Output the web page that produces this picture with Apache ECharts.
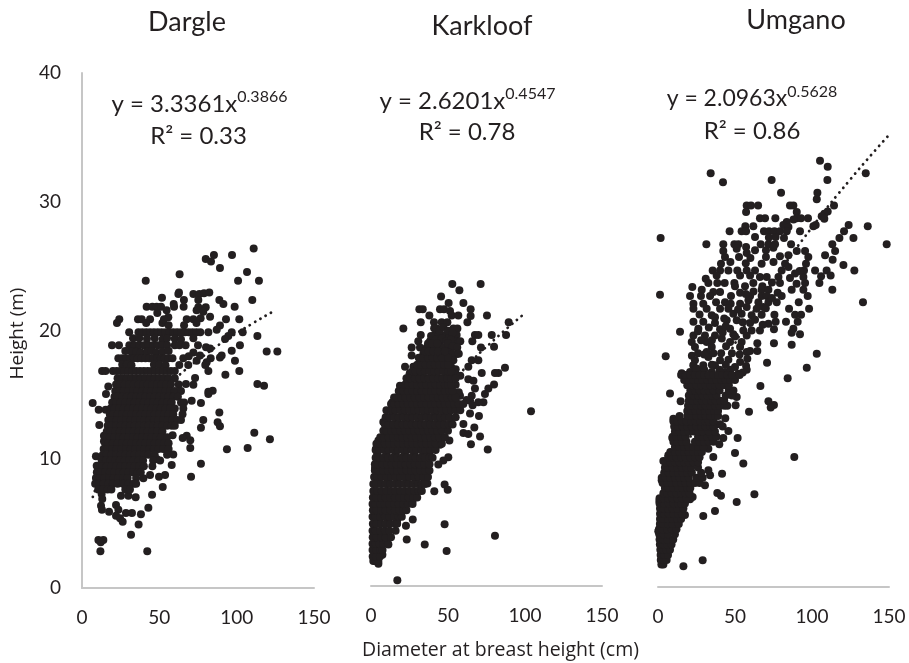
<!DOCTYPE html>
<html><head><meta charset="utf-8"><style>html,body{margin:0;padding:0;background:#fff}#c{width:909px;height:663px}</style>
<script src="https://cdn.jsdelivr.net/npm/echarts@6/dist/echarts.min.js"></script></head><body><div id="c"></div>
<script>
const panelNames=["Dargle","Karkloof","Umgano"];
const xTicks=[0,50,100,150];
const yTicks=[0,10,20,30,40];
const equations=[["3.3361","0.3866","0.33"],["2.6201","0.4547","0.78"],["2.0963","0.5628","0.86"]];
const dargleTrend=[[7,7.08],[15,9.5],[25,11.58],[40,13.89],[60,16.24],[80,18.15],[100,19.79],[125,21.57]];
const karkloofTrend=[[2,3.59],[5,5.45],[10,7.46],[20,10.23],[40,14.02],[60,16.86],[80,19.2],[100,21.27]];
const umganoTrend=[[1,2.1],[5,5.19],[10,7.66],[25,12.83],[50,18.95],[75,23.81],[100,27.99],[125,31.74],[149,35.05]];
const darglePoints=[[111,26.36],[97,25.86],[85.3,25.86],[80,25.55],[83.4,25.35],[89.2,24.85],[106.7,24.54],[100.9,23.87],[114.4,23.87],[63.1,24.36],[41.2,23.87],[62.7,22.96],[62.3,22.83],[72,22.83],[75.9,22.83],[78.9,22.89],[82.3,22.96],[51.7,22.55],[65.9,22.37],[75.2,22.37],[88.8,22.37],[91.4,22.06],[110.1,22.37],[59.3,22.06],[59.5,21.85],[65.7,21.85],[41.8,21.85],[45.5,21.85],[48.3,21.85],[51.1,21.85],[75.2,21.8],[80,21.8],[98.7,21.85],[54.7,21.57],[74.1,21.57],[78.4,21.46],[82.8,21.07],[24.1,20.87],[22.6,20.58],[36.2,20.87],[38.6,20.87],[44,20.87],[48.7,21.36],[55.8,21.02],[67.7,20.87],[72,20.87],[76.7,20.95],[93.1,20.87],[101.7,20.87],[89.2,20.38],[87.1,20.06],[41.5,20.58],[52,20.58],[56,20.4],[53,20.87],[66,20.4],[74,20.58],
[30.5,19.86],[36.5,19.86],[39,19.86],[41.5,19.86],[44,19.86],[46.5,19.86],[49,19.86],[51.5,19.86],[54,19.86],[56.5,19.86],[59,19.86],[61.5,19.86],[64,19.86],[66.5,19.86],[69,19.86],[71.5,19.86],[74,19.86],[76.5,19.86],[81.7,19.86],[96.8,19.86],[103.9,19.86],[94.6,19.57],[92.5,19.34],[113.4,19.57],[33,19.4],[37,19.4],[42,19.35],[47,19.4],[52,19.3],[55,19.4],[60,19.35],[64,19.3],[72,19.4],
[19.4,18.85],[23.9,18.85],[30.6,18.85],[34,18.85],[37,18.85],[40,18.85],[43,18.85],[46,18.85],[49,18.85],[52,18.85],[55,18.85],[60,18.85],[63,18.85],[67,18.85],[75,18.85],[102.1,18.85],[80.2,18.69],[82.8,18.6],[96.8,18.43],[119.4,18.36],[126.3,18.36],[90.3,18.05],[89.2,17.9],[98.9,17.66],[83.2,17.84],[80.6,17.53],[79.7,17.32],[74.1,17.66],[76.3,18.05],[72,18.3],[68.7,17.32],[62.9,17.32],[65.5,17.84],[69,18],[32,18.35],[35,18.35],[38,18.3],[42,18.35],[45,18.4],[48,18.3],[52,18.35],[28,18.4],[56,18.4],
[23.5,17.84],[26,17.84],[28.5,17.84],[31,17.84],[33.5,17.84],[36,17.84],[38.5,17.84],[41,17.84],[43.5,17.84],[46,17.84],[48.5,17.84],[51,17.84],[53.5,17.84],[56,17.84],[58.5,17.84],[26,17.35],[29,17.35],[32,17.3],[46.5,17.35],[50,17.35],[54,17.3],[13,16.85],[15.2,16.85],[20,16.85],[22.5,16.85],[25,16.85],[27.5,16.85],[30,16.85],[32.5,16.85],[35,16.85],[37.5,16.85],[40,16.85],[42.5,16.85],[45,16.85],[47.5,16.85],[50,16.85],[52.5,16.85],[55,16.85],[57.5,16.85],[60,16.85],[81.7,16.85],[101.7,16.85],[92.7,16.57],[73.1,16.31],[72,15.79],[67.2,15.84],[113.4,15.84],[117.7,15.71],[81.7,15.25],[84.5,15.33],[81.7,15.07],[70.9,14.55],[76.9,14.37],[88.8,13.64],[78.4,13.05],[87.7,12.87],[89.2,12.56],[76.9,12.45],[111.4,12.06],[121.5,11.55],[67.7,11.83],[65.1,11.65],[70,11.47],[58.6,11.86],[70,10.87],[93.7,10.77],[107.1,10.87],[59,10.36],[76.9,9.66],[58,9.55],[70.5,8.65],[53.7,8.78],[49.8,8.65],[52.2,7.84],[45.3,7.25],[42.9,6.24],[38.1,5.72],[36.6,4.94],[31.7,4.14],[42.2,2.85],[11.9,2.85],[10.6,3.73],[13.8,3.73],[12.1,3.55],
[6.9,14.37],[10.8,13.85],[15.3,13.85],[11.2,12.66],[14.2,11.83],[14.2,11.39],[9,10.23],[17,15.66],[15.5,15.07],[9.5,9.5],[12.3,6.39],[12.9,6.08],[17.5,5.93],[22,6.45],[23.5,6.08],[22,5.62],[24.6,5.41],[26.3,5.15],[28.4,5.83],[32.3,5.83],[25.2,7.17],[30,7.17],[34.7,7.04],[12.7,7.3],[13.1,6.91],[31,8.08],[39.7,8.52],[44,8.78],[48.3,10.02]];
const dargleBlob=[
[16.3,23,26,29,32,35,38,41,44,47,50,53,56,60],
[15.8,22,24.5,27.5,30.5,33.5,36.5,39.5,42.5,45.5,48.5,51.5,54.5,57.5,62.5],
[15.3,21.5,24,27,30,33,36,39,42,45,48,51,54,57,60,64],
[14.85,21,23,26,29,32,35,38,41,44,47,50,53,56,59,62],
[14.4,19.5,22,25,28,31,34,37,40,43,46,49,52,55,58,64,66],
[13.95,18.5,21,24,27,30,33,36,39,42,45,48,51,54,57,60,65.5],
[13.5,18,20,23,26,29,32,35,38,41,44,47,50,53,56,59,65],
[13.05,17,19.5,22.5,25.5,28.5,31.5,34.5,37.5,40.5,43.5,46.5,49.5,52.5,55.5,58.5,61.5,64],
[12.6,16.6,19,22,25,28,31,34,37,40,43,46,49,52,55,58,60],
[12.15,16,18.5,21.5,24.5,27.5,30.5,33.5,36.5,39.5,42.5,45.5,48.5,52],
[11.7,15.5,18,21,24,27,30,33,36,39,42,45,48,51,55],
[11.25,15,17,20,23,26,29,32,35,38,41,44,47,50,53,56],
[10.8,14,16.5,19.5,22.5,25.5,28.5,31.5,34.5,37.5,40.5,43.5,46.5,49.5,52.5,56],
[10.35,13.5,16,19,22,25,28,31,34,37,40,43,47,55],
[9.9,12.7,15.5,18.5,21.5,24.5,27.5,30.5,33.5,36.5,39.5,46,50.5],
[9.45,10.8,13,16,19,22,25,28,31,34,37,40,45.5],
[9,9.6,12,15,18,21,24,27,30,33,36,38],
[8.55,9,11.5,14.5,17.5,20.5,23.5,26.5,29.5,35],
[8.1,8.5,11,14,17,20,23,26.5,30,33.5,35],
[7.65,10.5,13.5,16.5,19,28,31]];
const karkloofPoints=[[52.8,23.55],[71.2,23.55],[57.4,23.06],[45.5,22.57],[50.4,22.07],[60,22.07],[31.4,21.58],[33.6,21.58],[44.8,21.58],[47.4,21.58],[51.3,21.45],[64.7,21.58],[64.7,21.06],[37.9,21.09],[52.4,21.09],[56.7,21.09],[75.3,21.09],[32.3,20.57],[40.9,20.57],[45.9,20.57],[49.6,20.57],[62.6,20.57],[89.4,20.57],[21,20.08],[42.7,20.08],[53.5,20.08],[56.1,20.08],[87.7,19.58],[32.3,19.58],[41.6,19.58],[44,19.58],[48.1,19.58],[51,19.58],[55.6,19.58],[67.5,19.58],[69.7,19.58],[78.4,19.58],[30.7,19.09],[38.3,19.09],[45,19.09],[55.6,19.09],[58,19.09],[65.8,19.09],[79.9,18.65],[26.4,18.6],[71.4,18.6],[31.8,18.6],[36.2,18.6],[51.3,18.6],[26.4,17.98],[55.6,18.08],[32.3,17.56],[65.4,17.61],[69.7,17.61],[22.1,17.09],[27.5,17.09],[63.2,17.09],[87,17.02],[82.7,16.6],[80.5,16.6],[71.9,16.6],[25.3,16.6],[31.8,16.6],[63.2,16.13],[66.5,16],[79.9,15.72],[18.8,15.62],[23.2,15.62],[76.2,15.4],[67.5,15.4],[74,14.97],[57.8,14.84],[65.4,14.84],[64.3,14.45],[73,14.32],[69.7,14.32],[66,14.1],[13.9,14.32],[103.9,13.62],[64.3,13.46],[70.1,13.26],[8,12.79],[60,12.63],[67.1,12.35],[60,11.93],[63.2,11.85],[70.8,11.65],[64.9,11.05],[75.8,10.64],[4.8,11.34],[3.2,10.69],[2.6,9.2],[50.9,11.34],[44.8,11.02],[50.2,10.04],[47,9.78],[43.7,9.47],[36.6,7.99],[41.1,7.39],[47.8,7.91],[49.8,7.5],[27.1,5.19],[22.7,4.7],[47.8,4.82],[23.2,3.63],[34.9,3.24],[49.1,2.72],[80.5,3.92],[17.1,0.44],[11.3,3.24],[7.4,2.44],[4.8,1.74],[2.6,1.95]];
const karkloofUpper=[[41,20.1],[44.5,19.9],[47,20.2],[50,19.9],[53,19.7],[39,19.5],[42,19.2],[46,19.3],[49,19.1],[52,19.2],[38,18.7],[41,18.6],[44,18.7],[47,18.6],[50,18.9],[53,18.7],[56,18.6],[34,18.1],[38,18.2],[46,18.2],[50,18.2],[53,18.1],[57,18.1],[33,17.5],[36,17.6],[39,17.5],[42,17.7],[45,17.5],[48,17.7],[51,17.5],[53.5,17.6],[28,17.1],[32,17.05],[52,17.1],[55,16.9],[29,16.5],[55,16.5],[58,16.4],[22,15.6],[27,15.9],[55,15.7],[57,15.1],[20,15],[55,14.6],[62,14.5]];
const karkloofFill=[[4,10.3],[10,10.3],[16,10.3],[22,10.3],[28,10.3],[34,10.3],[38,10.3],[5,8.2],[11,8.2],[17,8.2],[23,8.2],[29,8.2],[35,8.2],[4,6.65],[10,6.65],[16,6.65],[22,6.65],[27,6.65],[5,5.15],[11,5.15],[17,5.15],[10,12.85],[17,12.85],[24,12.85],[31,12.85],[38,12.85],[45,12.85],[52,12.85],[14,13.45],[21,13.45],[28,13.45],[35,13.45],[42,13.45],[49,13.45],[25,16.5],[33,16.5],[41,16.5],[49,16.5],[30,17],[38,17],[46,17]];
const karkloofBlob=[
[1.95,1.5,3.5,4.8],
[2.3,1.1,3.2,5.8],
[2.8,1,3.5,6,7.5],
[3.3,1,3,5.5,8,11],
[3.8,1.1,3.5,6.5,9.5,13],
[4.3,1,3,6,9,12,16],
[4.85,1.2,3.5,6.5,9.5,12.5,15.5,17],
[5.4,1,3,6,9,12,15,18,20],
[5.9,1.2,3.5,6.5,9.5,12.5,15.5,18.5,21,23],
[6.4,1,3,6,9,12,15,18,21,24,27],
[6.9,1.2,3.5,6.5,9.5,12.5,15.5,18.5,21.5,24.5,27.5,30],
[7.4,1.5,4,7,10,13,16,19,22,25,28,31,33],
[7.95,1.5,3.5,6.5,9.5,12.5,15.5,18.5,21.5,24.5,27.5,30.5,33,35],
[8.5,2,4,7,10,13,16,19,22,25,28,31,34,37],
[9,2.5,5,8,11,14,17,20,23,26,29,32,35,38],
[9.5,2.5,4.5,7.5,10.5,13.5,16.5,19.5,22.5,25.5,28.5,31.5,34.5,38],
[10,3,5,8,11,14,17,20,23,26,29,32,35,38,40],
[10.6,3,5.5,8.5,11.5,14.5,17.5,20.5,23.5,26.5,29.5,32.5,35.5,38.5,42],
[11.1,3.5,6,9,12,15,18,21,24,27,30,33,36,39,42,46],
[11.6,6,8.5,11.5,14.5,17.5,20.5,23.5,26.5,29.5,32.5,35.5,38.5,41.5,44.5,48],
[12.1,8,10,13,16,19,22,25,28,31,34,37,40,43,46,50],
[12.6,9,11.5,14.5,17.5,20.5,23.5,26.5,29.5,32.5,35.5,38.5,41.5,44.5,47.5,50.5,53],
[13.15,9.5,12,15,18,21,24,27,30,33,36,39,42,45,48,51,55],
[13.7,10,13,16,19,22,25,28,31,34,37,40,43,46,49,52,55,58],
[14.2,13,15,18,21,24,27,30,33,36,39,42,45,48,51,54,57,60],
[14.7,15,16.5,19.5,22.5,25.5,28.5,31.5,34.5,37.5,40.5,43.5,46.5,49.5,52.5,55],
[15.2,18,21,24,27,30,33,36,39,42,45,48,51,53],
[15.7,22,24,27,30,33,36,39,42,45,48,50,52],
[16.2,23,25.5,28.5,31.5,34.5,37.5,40.5,43.5,46.5,49.5,52,55],
[16.75,27,29,32,35,38,41,44,47,50,52],
[17.25,30,32.5,35.5,38.5,41.5,44.5,47.5,50],
[17.8,31,34,37,40,43,46,50],
[18.3,35,37.5,40.5,43.5,48],
[18.9,37,39.5,43]];
const umganoPoints=[[105.2,33.18],[110.2,32.71],[110,31.67],[134.9,32.19],[34.2,32.19],[42.2,31.49],[73.8,31.67],[79.9,30.69],[103.5,30.69],[103.1,30.17],[114.3,29.68],[110.2,29.23],[108,29.05],[106.3,28.85],[108,28.66],[57.6,29.68],[60.4,29.68],[65,29.68],[57.2,29.18],[85.7,29.68],[87.9,29.68],[90.1,29.18],[66.2,28.69],[69.5,28.69],[76.2,28.69],[90.1,28.69],[92.9,28.69],[97.4,28.69],[102.4,28.17],[100.9,28.07],[123.8,28.17],[136.2,28.07],[56.7,28.07],[61.9,28.07],[83.6,28.4],[81.4,28.17],[84.7,28.02],[46.5,27.68],[54.3,27.68],[57.2,27.68],[68.8,27.68],[72.1,27.68],[75.6,27.68],[79.2,27.68],[83.6,27.68],[92.2,27.68],[120.8,27.68],[117.8,27.16],[126.9,27.16],[1.7,27.16],[63,27.24],[76.4,27.24],[81.8,27.16],[31.4,26.67],[42.4,26.67],[49.6,26.67],[52.2,26.67],[57.2,26.46],[66.7,26.67],[71.7,26.67],[76,26.67],[86.4,26.67],[113.2,26.67],[148.5,26.67],[115,26.15],[42.4,26.15],[51.1,26.33],[57.6,25.99],[63,26.2],[70.1,26.2],[74.9,26.41],[90.1,26.15],[95.5,26.15],[43.5,25.68],[52.6,25.68],[70.1,25.68],[79.2,25.73],[84.7,25.81],[97.6,25.68],[108.5,25.81],[113.4,25.47],[40.9,25.16],[67.3,25.16],[82.5,25.16],[96.1,25.16],[120.4,25.06],[127.5,24.64],[35.5,24.64],[40.3,24.64],[45.7,24.64],[51.5,24.64],[57.6,24.64],[63,24.64],[80.3,24.64],[84.7,24.9],[94.8,24.64],[102,24.64],[109.5,24.64],[38.1,24.25],[53.3,24.25],[59.8,24.25],[66.2,24.12],[70.6,24.12],[78.2,24.12],[85.7,24.05],[94.4,24.12],[105.9,24.18],[112.1,24.25],[31,23.99],[32.7,23.66],[38.5,23.66],[43.3,23.66],[49.6,23.66],[61.9,23.66],[79.2,23.66],[95.5,23.66],[104.8,23.66],[22.3,23.35],[56.5,23.4],[67.8,23.4],[28.4,23.14],[35.9,22.96],[50,23.4],[53.3,22.9],[67.3,23.14],[71.7,23.14],[77.7,22.9],[86.8,23.14],[94.4,23.14],[113.2,23.14],[1.3,22.75],[20.8,22.65],[27.9,22.65],[33.8,22.65],[40.3,22.96],[47.4,22.65],[59.8,22.65],[67.3,22.65],[70.6,22.65],[80.3,22.65],[97.2,22.65],[23,22.05],[29.4,22.05],[37.7,22.15],[43.5,22.15],[47.2,22.05],[53.3,22.05],[58.7,22.31],[65.2,22.15],[71.7,22.15],[77.1,22.15],[91.4,22.15],[133.1,22.15],[23,21.66],[31.6,21.66],[40.3,21.66],[45.7,21.66],[57.6,21.79],[64.1,21.66],[68.4,21.79],[85.1,21.66],[98.1,21.66],[34.9,21.14],[48.9,21.27],[54.3,21.27],[60.8,21.14],[67.3,21.19],[75.6,21.19],[89,21.19],[92.9,21.19],[23,20.65],[29.4,20.65],[37,20.54],[44.6,20.75],[51.1,20.75],[59.8,20.54],[71.7,20.49],[76.4,20.65],[83.1,20.65],[90.7,20.65],[14.3,19.87],[26.2,20.1],[40.3,20.05],[46.8,20.1],[55.4,19.97],[60.8,19.97],[66.2,19.97],[75.3,20.05],[87.9,20.1],[86.8,19.79],[92.2,19.66],[23,19.58],[30.5,19.58],[37,19.58],[48.9,19.66],[57.6,19.58],[21.9,19.07],[31.6,19.07],[41.4,19.33],[46.8,19.07],[54.3,19.07],[64.5,18.96],[75.3,18.96],[86.8,18.86],[24,18.68],[34.9,18.68],[44.2,18.73],[53.3,18.68],[31.6,18.29],[57.6,18.29],[64.5,18.37],[59.8,18.37],[103.1,18.16],[5,17.95],[24,17.64],[32.7,17.9],[40.3,17.64],[45.7,17.69],[53.3,17.51],[58,17.77],[70.8,17.46],[22.9,17.25],[29.4,17.25],[37,17.25],[50,17.12],[57.2,17.2],[57.6,16.91],[96.6,17.07],[15.4,16.63],[20.8,16.73],[27.3,16.73],[34.9,16.73],[43.5,16.73],[52.2,16.6],[84.2,16.24],[66.5,15.64],[7.8,15.05],[14.7,14.45],[71.7,14.45],[75.3,14.16],[73.2,13.96],[59.1,13.64],[43.7,13.13],[51.1,14.79],[50.4,14.14],[51.7,11.6],[50,10.43],[88.5,10.12],[55.4,9.62],[35.9,10.12],[41.6,8.82],[33.8,8.69],[62.6,7.21],[51.1,6.61],[38.5,7.32],[40.9,7.11],[37,5.91],[29.4,5.53],[29,2.08],[16.5,1.61],[22.5,7],[20.8,6.82],[17.5,5.6],[30.5,7.91],[32.7,9.08],[45.7,12.14],[37.7,12.66],[40.3,12.66],[32.7,10.76],[39.8,11.1],[42.4,11.6],[10,13.1],[9.3,11.6],[6.7,10.25],[3.5,9.8],[2.4,8.3],[0.9,6.69],[0.2,4.33]];
const umganoBlob=[
[1.75,2.2,3.5],
[2.1,1.8,3.6,5.6],
[2.5,1.7,4,6.5],
[2.9,1.5,3.5,5.5,7.8],
[3.3,1.2,3.5,6,8.8],
[3.7,1,3.5,6,9.9],
[4.1,0.8,3.5,6.5,11],
[4.5,0.6,3,6,9,12],
[4.9,1.2,3.5,6.5,9.5,13.5],
[5.3,1.3,3.5,6.5,9.5,12.5,15],
[5.7,1.3,4,7,10,13,15.5],
[6.1,1.3,3.5,6.5,9.5,12.5,16.5],
[6.5,1,4,7,10,13,15,17.5],
[6.9,1,3.5,6.5,9.5,12.5,15.5,18.5],
[7.3,3.5,6,9,12,15,18,20.5],
[7.7,4.5,7,10,13,16,19,21],
[8.1,3,6,9,12,15,18,21,24,27],
[8.5,2.4,5,8,11,14,17,20,25,29],
[8.9,4,7,10,13,16,19,22,28],
[9.3,4.5,6.5,9.5,12.5,15.5,18.5,21.5,26],
[9.7,5,8,11,14,17,20,23,26],
[10.1,6.7,9,12,15,18,21,24,27],
[10.5,8,11,14,17,20,23,26,28.5],
[10.9,11,14,17,20,23,26,29.5],
[11.3,10,12.5,15.5,18.5,24,27,30,33,36],
[11.7,9.5,12,15,18,26,29,32,35,38],
[12.1,11,14,17,20,23,26,29,33,37],
[12.5,10.5,13,16,19,22,25,28,31,34,36,42],
[12.9,10,12.5,15.5,18.5,21.5,24.5,27.5,30.5,33,36],
[13.3,14,19,22,25,28,31,34,37,39],
[13.7,19,21.5,24.5,27.5,30.5,33.5,36.5,39],
[14.1,19.5,22,25,28,31,34,37,40,43,45],
[14.5,20,22.5,25.5,28.5,31.5,34.5,37.5,40.5,43],
[14.9,20,23,26,29,32,35,38,44,48],
[15.3,21,24,27,30,33,36,40,46,49],
[15.7,19,22,25,28,31,34,37,40,43,46],
[16.1,17,20,23,26,29,32,35,38,41,44,47,50],
[16.5,15,18,21,24,27,30,33,36,39,42,45,48,53]];
const umganoExtra=[[24,16.9],[30,16.9],[40,16.9],[47,16.9],[55,16.7],[25,17.0],[35,17.3],[44,17.3],[22,18.0],[26,18.2],[36,18.2],[41,18.2],[48,18.2],[53,18.1],[28,19.2],[35,19.2],[42,19.8],[50,19.5],[26,19.9],[33,20.2],[37,21],[27,21.2],[43,20.9],[55,20.6],[63,20.8],[68,20.4],[70,21.7],[52,21.6],[74,22.5],[62,23],[74,23.7],[90,23.6],[92,24.6],[89,24.4],[57,25.2],[47,25.3],[60,25.6],[75,25.3],[72,27.2],[88,28.6],[44,20.3],[57,22.8],[30,18.1]];

function expand(rows){const out=[];rows.forEach(r=>{for(let i=1;i<r.length;i++)out.push([r[i],r[0]]);});return out;}
const scatterData=[darglePoints.concat(expand(dargleBlob)),karkloofPoints.concat(karkloofUpper,karkloofFill,expand(karkloofBlob)),umganoPoints.concat(umganoExtra,expand(umganoBlob))];
const trends=[dargleTrend,karkloofTrend,umganoTrend];
const ink="#231f20",axisGrey="#c6c6c6",textCol="#231f20",face="Lato, Carlito, sans-serif",face2="'Open Sans', sans-serif";
const grids=[{left:82,top:73,width:232,height:515,outerBoundsMode:'none'},{left:371,top:73,width:231,height:513,outerBoundsMode:'none'},{left:658,top:73,width:231,height:514,outerBoundsMode:'none'}];
const titlePos=[[187,9],[482,13],[796,7]];
const eqPos=[[199.5,89,198.5,124],[467.5,86,467,120],[752,84,752,119]];
const eqSize=[24,24,23];
const titles=[];
panelNames.forEach((n,i)=>{
 titles.push({text:n,left:titlePos[i][0],top:titlePos[i][1],padding:0,textAlign:'center',textStyle:{fontFamily:face,fontSize:27,fontWeight:'normal',color:textCol}});
 const e=equations[i];
 titles.push({text:'{m|y = '+e[0]+'x}{s|'+e[1]+'}',left:eqPos[i][0],top:eqPos[i][1],padding:0,textAlign:'center',textStyle:{rich:{m:{fontFamily:face,fontSize:eqSize[i],fontWeight:'normal',color:textCol,lineHeight:30},s:{fontFamily:face,fontSize:16,fontWeight:'normal',color:textCol,verticalAlign:'top',lineHeight:18}}}});
 titles.push({text:'R² = '+e[2],left:eqPos[i][2],top:eqPos[i][3],padding:0,textAlign:'center',textStyle:{fontFamily:face,fontSize:24,fontWeight:'normal',color:textCol}});
});
const option={animation:false,backgroundColor:'#fff',title:titles,grid:grids,
 xAxis:grids.map((g,i)=>({gridIndex:i,type:'value',min:xTicks[0],max:xTicks[3],interval:50,
  axisLine:{show:true,onZero:false,lineStyle:{color:axisGrey,width:2}},axisTick:{show:false},splitLine:{show:false},
  axisLabel:{color:textCol,fontFamily:face,fontSize:19,margin:20,showMinLabel:true,showMaxLabel:true},
  name:i===1?'Diameter at breast height (cm)':'',nameLocation:'middle',nameGap:54,
  nameTextStyle:{color:textCol,fontFamily:face2,fontSize:19.5,padding:[0,0,0,28]}})),
 yAxis:grids.map((g,i)=>({gridIndex:i,type:'value',min:yTicks[0],max:yTicks[4],interval:10,
  axisLine:{show:i===0,lineStyle:{color:axisGrey,width:2}},axisTick:{show:false},splitLine:{show:false},
  axisLabel:{show:i===0,color:textCol,fontFamily:face,fontSize:19,margin:21},
  name:i===0?'Height (m)':'',nameLocation:'middle',nameRotate:90,nameGap:55,
  nameTextStyle:{color:textCol,fontFamily:face2,fontSize:19,padding:[0,6,0,0]}})),
 series:[]};
scatterData.forEach((d,i)=>{
 option.series.push({type:'scatter',xAxisIndex:i,yAxisIndex:i,data:d,symbol:'circle',symbolSize:8,itemStyle:{color:ink,opacity:1},silent:true,clip:false,z:2});
 option.series.push({type:'line',xAxisIndex:i,yAxisIndex:i,data:trends[i],smooth:true,showSymbol:false,silent:true,z:1,lineStyle:{color:ink,width:2.8,type:[0.1,6],cap:'round'}});
});
echarts.init(document.getElementById('c'),null,{renderer:'canvas'}).setOption(option);
</script></body></html>
